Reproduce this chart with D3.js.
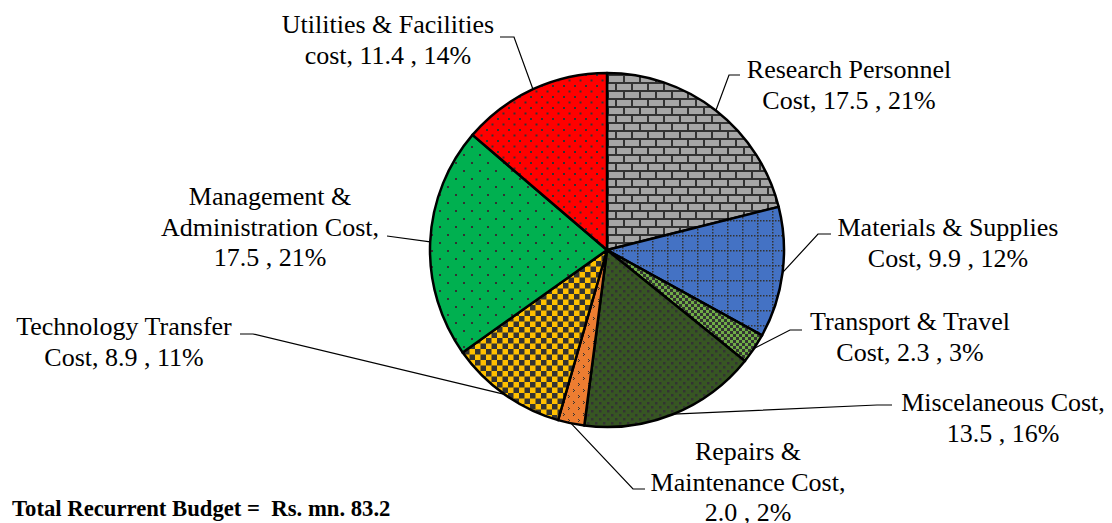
<!DOCTYPE html>
<html>
<head>
<meta charset="utf-8">
<script src="https://cdn.jsdelivr.net/npm/d3@7"></script>
<style>
  html, body { margin: 0; padding: 0; background: #fff; }
  svg { display: block; }
  text { font-family: "Liberation Serif", "Times New Roman", serif; fill: #000; }
</style>
</head>
<body>
<svg id="chart" width="1112" height="523"></svg>
<script>
// ---- data ----
const categories = [
  "Research Personnel Cost", "Materials & Supplies Cost", "Transport & Travel Cost",
  "Miscelaneous Cost", "Repairs & Maintenance Cost", "Technology Transfer Cost",
  "Management & Administration Cost", "Utilities & Facilities cost"
];
const values = [17.5, 9.9, 2.3, 13.5, 2.0, 8.9, 17.5, 11.4];
const labelLines = [
  ["Research Personnel", "Cost,"],
  ["Materials & Supplies", "Cost,"],
  ["Transport & Travel", "Cost,"],
  ["Miscelaneous Cost,", ""],
  ["Repairs &", "Maintenance Cost,", ""],
  ["Technology Transfer", "Cost,"],
  ["Management &", "Administration Cost,", ""],
  ["Utilities & Facilities", "cost,"]
];
const totalText = "Total Recurrent Budget =  Rs. mn. 83.2";

// ---- layout (positions only) ----
const cx = 607, cy = 250, R = 177;
const labelLayout = [
  { x: 849,  y: 78,  leader: [[740, 75], [729, 75]] },
  { x: 948,  y: 236, leader: [[831, 234], [818, 234]] },
  { x: 910,  y: 330, leader: [[802, 330], [790, 330]] },
  { x: 1003, y: 411, leader: [[892, 405], [877, 405]] },
  { x: 748,  y: 460, leader: [[645, 489], [633, 489]] },
  { x: 124,  y: 335, leader: [[240, 334], [253, 334]] },
  { x: 270,  y: 205, leader: [[387, 236]] },
  { x: 388,  y: 33,  leader: [[500, 37], [514, 37]] }
];
const lineGap = 30.5;

const svg = d3.select("#chart");
const defs = svg.append("defs");
const dark = "#333333";

function pat(id, w, h, bg) {
  const p = defs.append("pattern").attr("id", id)
    .attr("patternUnits", "userSpaceOnUse").attr("width", w).attr("height", h);
  p.append("rect").attr("width", w).attr("height", h).attr("fill", bg);
  return p;
}
// brick (Research)
{
  const p = pat("p0", 16, 16, "#a6a6a6");
  p.append("rect").attr("x", 0).attr("y", 0).attr("width", 16).attr("height", 2).attr("fill", dark);
  p.append("rect").attr("x", 0).attr("y", 8).attr("width", 16).attr("height", 2).attr("fill", dark);
  p.append("rect").attr("x", 0).attr("y", 0).attr("width", 2).attr("height", 8).attr("fill", dark);
  p.append("rect").attr("x", 8).attr("y", 8).attr("width", 2).attr("height", 8).attr("fill", dark);
}
// dotted grid (Materials)
{
  const p = pat("p1", 15, 15, "#4472c4");
  for (let i = 0; i < 15; i += 3) {
    p.append("rect").attr("x", i).attr("y", 0).attr("width", 1.5).attr("height", 1.5).attr("fill", dark);
    p.append("rect").attr("x", 0).attr("y", i).attr("width", 1.5).attr("height", 1.5).attr("fill", dark);
  }
}
// small checkerboard (Transport)
{
  const p = pat("p2", 6, 6, "#70ad47");
  p.append("rect").attr("x", 0).attr("y", 0).attr("width", 3).attr("height", 3).attr("fill", dark);
  p.append("rect").attr("x", 3).attr("y", 3).attr("width", 3).attr("height", 3).attr("fill", dark);
}
// dotted squares (Misc)
{
  const p = pat("p3", 8, 8, "#375623");
  p.append("rect").attr("x", 0).attr("y", 0).attr("width", 2.5).attr("height", 2.5).attr("fill", dark);
  p.append("rect").attr("x", 4).attr("y", 4).attr("width", 2.5).attr("height", 2.5).attr("fill", dark);
}
// confetti (Repairs)
{
  const p = pat("p4", 10, 12, "#ed7d31");
  [[1,1],[2,2],[1,3],[6,7],[7,8],[6,9]].forEach(([x,y]) =>
    p.append("rect").attr("x", x).attr("y", y).attr("width", 1).attr("height", 1).attr("fill", dark));
}
// large checkerboard (Tech)
{
  const p = pat("p5", 11, 11, "#ffc000");
  p.append("rect").attr("x", 0).attr("y", 0).attr("width", 5.5).attr("height", 5.5).attr("fill", dark);
  p.append("rect").attr("x", 5.5).attr("y", 5.5).attr("width", 5.5).attr("height", 5.5).attr("fill", dark);
}
// sparse dots (Management)
{
  const p = pat("p6", 16, 16, "#00b050");
  p.append("rect").attr("x", 0).attr("y", 0).attr("width", 2).attr("height", 2).attr("fill", dark);
  p.append("rect").attr("x", 8).attr("y", 8).attr("width", 2).attr("height", 2).attr("fill", dark);
}
// dots (Utilities)
{
  const p = pat("p7", 11, 11, "#ff0000");
  p.append("rect").attr("x", 0).attr("y", 0).attr("width", 2).attr("height", 2).attr("fill", dark);
  p.append("rect").attr("x", 5.5).attr("y", 5.5).attr("width", 2).attr("height", 2).attr("fill", dark);
}

const total = d3.sum(values);
const pie = d3.pie().sort(null).value(d => d)(values);
const arc = d3.arc().innerRadius(0).outerRadius(R);

const g = svg.append("g").attr("transform", `translate(${cx},${cy})`);
g.selectAll("path.slice").data(pie).join("path")
  .attr("class", "slice")
  .attr("d", arc)
  .attr("fill", (d, i) => `url(#p${i})`)
  .attr("stroke", "#000").attr("stroke-width", 2.5).attr("stroke-linejoin", "round");

// leader lines
pie.forEach((d, i) => {
  const a = (d.startAngle + d.endAngle) / 2;
  const px = cx + R * Math.sin(a), py = cy - R * Math.cos(a);
  const pts = labelLayout[i].leader.concat([[px, py]]);
  svg.append("path")
    .attr("d", d3.line()(pts))
    .attr("fill", "none").attr("stroke", "#000").attr("stroke-width", 1.2);
});

// labels
pie.forEach((d, i) => {
  const lines = labelLines[i].slice();
  const pct = Math.round(values[i] / total * 100);
  const last = lines.length - 1;
  lines[last] = (lines[last] + " " + values[i].toFixed(1) + " , " + pct + "%").trim();
  const t = svg.append("text")
    .attr("text-anchor", "middle")
    .attr("font-size", 26);
  lines.forEach((ln, k) => {
    t.append("tspan").attr("x", labelLayout[i].x).attr("y", labelLayout[i].y + k * lineGap).text(ln);
  });
});

svg.append("text")
  .attr("x", 12).attr("y", 516)
  .attr("font-size", 22.7).attr("font-weight", "bold")
  .style("white-space", "pre")
  .text(totalText);
</script>
</body>
</html>
